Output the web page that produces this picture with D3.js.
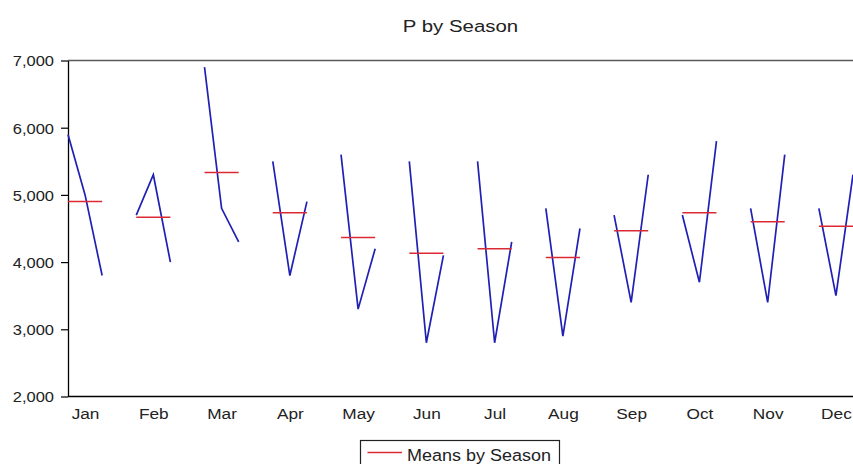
<!DOCTYPE html>
<html>
<head>
<meta charset="utf-8">
<script src="https://cdn.jsdelivr.net/npm/d3@7"></script>
<style>
  html, body { margin: 0; padding: 0; background: #fff; }
  svg { display: block; font-family: Arial, "Liberation Sans", sans-serif; }
</style>
</head>
<body>
<svg id="chart" width="853" height="464"></svg>
<script>
// ---- data ----
const seasons = ["Jan","Feb","Mar","Apr","May","Jun","Jul","Aug","Sep","Oct","Nov","Dec"];
const year1 = [5900, 4700, 6900, 5500, 5600, 5500, 5500, 4800, 4700, 4700, 4800, 4800];
const year2 = [5000, 5300, 4800, 3800, 3300, 2800, 2800, 2900, 3400, 3700, 3400, 3500];
const year3 = [3800, 4000, 4300, 4900, 4200, 4100, 4300, 4500, 5300, 5800, 5600, 5300];
const yTicks = [2000, 3000, 4000, 5000, 6000, 7000];
const titleText = "P by Season";
const legendText = "Means by Season";

(function () {
// ---- layout ----
const svg = d3.select("#chart");
const pL = 68, pR = 853, pT = 60.5, pB = 396.5;
const slotsPerSeason = 4;
const years = [year1, year2, year3];

const x = d3.scaleLinear().domain([0, seasons.length * slotsPerSeason - 2]).range([pL, pR]);
const y = d3.scaleLinear().domain([2000, 7000]).range([pB, pT]);

const blue = "#2020b4";
const red = "#dc2a34";

// frame (top border; right border falls outside the picture)
svg.append("line").attr("x1", pL).attr("x2", pR + 5).attr("y1", pT).attr("y2", pT)
  .attr("stroke", "#5a5a5a").attr("stroke-width", 1.3);

// y axis
const yAxis = d3.axisLeft(y).tickValues(yTicks).tickFormat(d3.format(",")).tickSize(7).tickSizeOuter(0).tickPadding(7);
const gy = svg.append("g").attr("transform", `translate(${pL},0)`).call(yAxis);
gy.select(".domain").attr("stroke", "#000").attr("stroke-width", 1.3);
gy.selectAll(".tick line").attr("stroke", "#000").attr("stroke-width", 1.2);
gy.selectAll(".tick text").attr("font-size", 15).attr("fill", "#222")
  .attr("dy", "0.36em")
  .attr("transform", function () { const xx = +d3.select(this).attr("x"); return `translate(${xx},0) scale(1.1,1) translate(${-xx},0)`; });

// x axis
const xAxis = d3.axisBottom(x)
  .tickValues(seasons.map((s, i) => i * slotsPerSeason + 1))
  .tickFormat((d) => seasons[(d - 1) / slotsPerSeason])
  .tickSize(0).tickSizeOuter(0).tickPadding(12);
const gx = svg.append("g").attr("transform", `translate(0,${pB})`).call(xAxis);
gx.select(".domain").attr("stroke", "#000").attr("stroke-width", 1.3).attr("d", `M${pL},0H${pR + 5}`);
gx.selectAll(".tick text").attr("font-size", 15).attr("fill", "#222")
  .attr("dy", "0.71em")
  .attr("transform", "scale(1.15,1)");

// series lines per season
const line = d3.line().x(d => x(d.slot)).y(d => y(d.v));
seasons.forEach((s, i) => {
  const pts = years.map((arr, k) => ({ slot: i * slotsPerSeason + k, v: arr[i] }));
  svg.append("path").datum(pts).attr("d", line)
    .attr("fill", "none").attr("stroke", blue).attr("stroke-width", 1.7);
  const m = d3.mean(years, arr => arr[i]);
  svg.append("line")
    .attr("x1", x(i * slotsPerSeason)).attr("x2", x(i * slotsPerSeason + years.length - 1))
    .attr("y1", y(m)).attr("y2", y(m))
    .attr("stroke", red).attr("stroke-width", 1.5);
});

// title
const cx = (pL + pR) / 2;
svg.append("text").attr("x", cx).attr("y", 32)
  .attr("text-anchor", "middle").attr("font-size", 17).attr("fill", "#222")
  .attr("transform", `translate(${cx},0) scale(1.2,1) translate(${-cx},0)`)
  .text(titleText);

// legend
const lg = svg.append("g");
lg.append("rect").attr("x", 360.5).attr("y", 440.5).attr("width", 199).attr("height", 30)
  .attr("fill", "#fff").attr("stroke", "#222").attr("stroke-width", 1.2);
lg.append("line").attr("x1", 367.5).attr("x2", 402).attr("y1", 452.5).attr("y2", 452.5)
  .attr("stroke", red).attr("stroke-width", 1.4);
lg.append("text").attr("x", 407).attr("y", 461).attr("font-size", 16.5).attr("fill", "#222")
  .attr("transform", "translate(407,0) scale(1.09,1) translate(-407,0)")
  .text(legendText);
})();
</script>
</body>
</html>
